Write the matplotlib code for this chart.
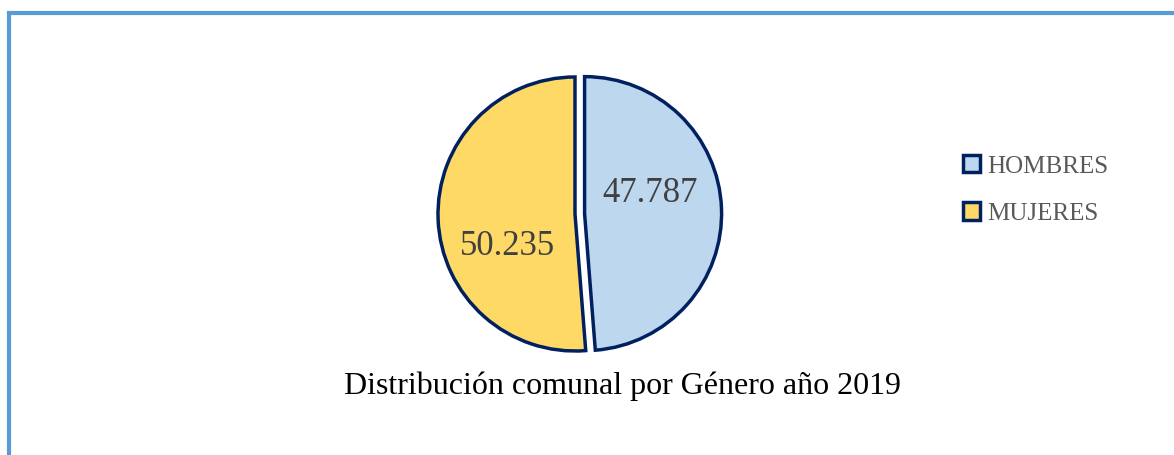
import matplotlib.pyplot as plt
from matplotlib.patches import Rectangle

# datos del grafico
generos = ["HOMBRES", "MUJERES"]
poblacion = [47.787, 50.235]
etiquetas = ["47.787", "50.235"]
colores = ["#BDD7EE", "#FFD966"]
titulo = "Distribución comunal por Género año 2019"

plt.rcParams['font.family'] = ['Liberation Serif', 'DejaVu Serif']

fig = plt.figure(figsize=(11.74, 4.56), dpi=100)
W, H = 1174, 456

# marco azul (cortado a la derecha y abajo)
fig.patches.append(Rectangle((9/W, -0.1), 1.2, (456-14)/H + 0.1,
                             transform=fig.transFigure, fill=False,
                             edgecolor="#5B9BD5", linewidth=3))

# ejes del pie: radio ~137 px, centro ~ (575, 215)
r = 137
cx, cy = 575, 215
ax = fig.add_axes([(cx - 1.3*r)/W, (H - cy - 1.3*r)/H, 2.6*r/W, 2.6*r/H])

wedges, _ = ax.pie(poblacion, colors=colores, startangle=90, counterclock=False,
                   explode=[0.07, 0], radius=1,
                   wedgeprops=dict(edgecolor="#002060", linewidth=2.5))
ax.set_xlim(-1.3, 1.3)
ax.set_ylim(-1.3, 1.3)
ax.set_aspect('equal')
ax.axis('off')

# etiquetas de valores
pos = [(0.55, 0.16), (-0.49, -0.23)]
for txt, (x, y) in zip(etiquetas, pos):
    ax.text(x, y, txt, ha='center', va='center', fontsize=25, color="#404040")

leg = fig.legend(wedges, generos, loc='upper left', bbox_to_anchor=(940/W, 1 - 133/H),
                 frameon=False, fontsize=18, handlelength=0.7, handleheight=0.7,
                 handletextpad=0.3, labelspacing=1.0, labelcolor="#595959")

fig.text(623/W, 1 - 386/H, titulo, ha='center', va='center', fontsize=23, color="black")

fig.savefig("out.png", dpi=100)
